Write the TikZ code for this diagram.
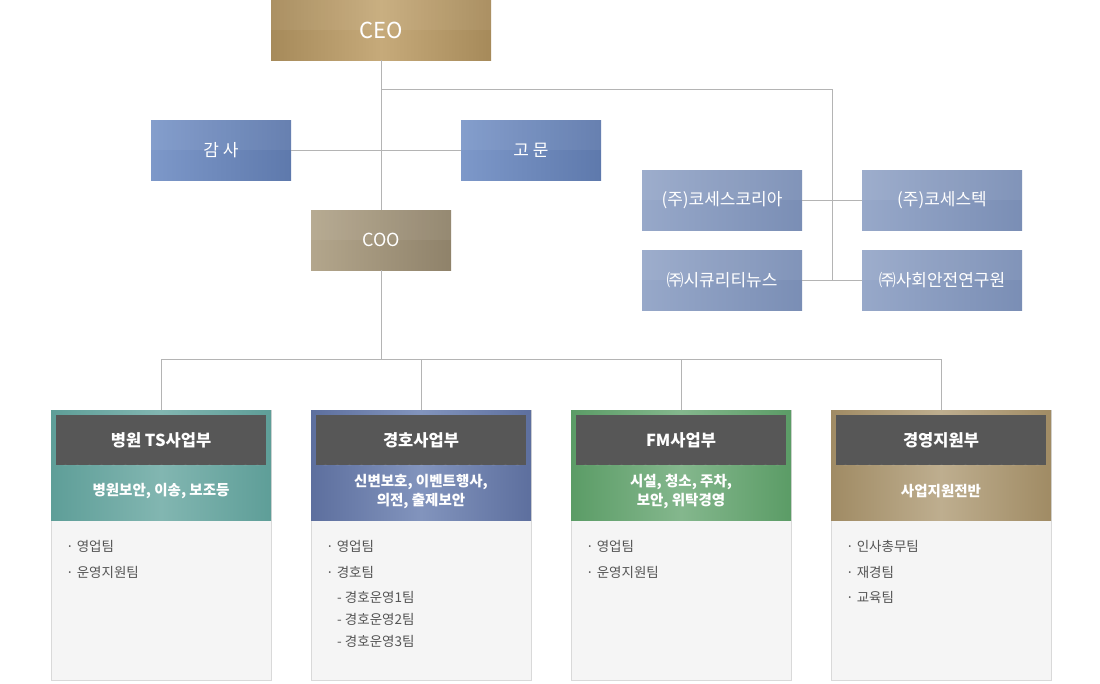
\documentclass[tikz,border=0pt]{standalone}
\usepackage{fontspec}
\setmainfont{Noto Sans CJK KR}
\usetikzlibrary{positioning}
\definecolor{linegray}{HTML}{B4B4B4}
\definecolor{itemgray}{HTML}{555555}
\definecolor{bodyfill}{HTML}{F5F5F5}
\definecolor{bodyline}{HTML}{D9D9D9}
\definecolor{headfill}{HTML}{575757}
\definecolor{ceoedge}{HTML}{A68A5A}
\definecolor{ceomid}{HTML}{C6AA7A}
\definecolor{staffhi}{HTML}{7D98C9}
\definecolor{stafflo}{HTML}{5E79AC}
\definecolor{coohi}{HTML}{B3A68C}
\definecolor{coolo}{HTML}{8F826A}
\definecolor{subhi}{HTML}{97A8C9}
\definecolor{sublo}{HTML}{7A8EB5}
\definecolor{tealedge}{HTML}{5E9E98}
\definecolor{tealmid}{HTML}{82B6B1}
\definecolor{blueedge}{HTML}{5D6F9E}
\definecolor{bluemid}{HTML}{8294BD}
\definecolor{greenedge}{HTML}{5B9C66}
\definecolor{greenmid}{HTML}{84B78D}
\definecolor{tanedge}{HTML}{A08B64}
\definecolor{tanmid}{HTML}{BEAE8F}
\tikzset{
  box/.style={minimum width=140pt, minimum height=60pt, inner sep=0pt, text=white,
    font=\fontsize{17}{20}\selectfont,
    path picture={\fill[white, opacity=0.06] (path picture bounding box.north west)
      rectangle ([yshift=-30pt]path picture bounding box.north east);}},
  ceobox/.style={box, minimum width=220pt, font=\fontsize{22}{26}\selectfont,
    left color=ceoedge, right color=ceoedge, middle color=ceomid},
  staffbox/.style={box, left color=staffhi, right color=stafflo},
  coobox/.style={box, font=\fontsize{18}{21}\selectfont, left color=coohi, right color=coolo},
  subbox/.style={box, minimum width=160pt, left color=subhi, right color=sublo},
  deptbody/.style={draw=bodyline, fill=bodyfill, minimum width=220pt, minimum height=270pt, inner sep=0pt},
  band/.style 2 args={minimum width=220pt, minimum height=110pt, inner sep=0pt,
    left color=#1, right color=#1, middle color=#2},
  headbox/.style={fill=headfill, minimum width=210pt, minimum height=50pt, inner sep=0pt, text=white,
    font=\fontsize{16.5}{19}\selectfont\bfseries,
    path picture={\foreach \k in {0,12,...,260}
      \draw[white, opacity=0.05, line width=4pt] ([xshift=\k pt-40pt]path picture bounding box.south west) -- ++(50pt,-50pt);}},
  subtext/.style={text=white, align=center, font=\fontsize{14.5}{19}\selectfont\bfseries},
  item/.style={anchor=west, inner sep=0pt, text=itemgray, font=\fontsize{13.5}{16}\selectfont},
  link/.style={draw=linegray, line width=1pt}
}
\begin{document}
\begin{tikzpicture}[x=1pt, y=-1pt]
  \useasboundingbox (0,0) rectangle (1100,683);
  % top level
  \node[ceobox] (ceo) at (381,30) {CEO};
  \node[staffbox] (audit) at (221,150) {감 사};
  \node[staffbox] (advisor) at (531,150) {고 문};
  \node[coobox] (coo) at (381,240) {COO};
  \node[subbox] (kosesk) at (722,200) {(주)코세스코리아};
  \node[subbox] (kosest) at (942,200) {(주)코세스텍};
  \node[subbox] (secnews) at (722,280) {㈜시큐리티뉴스};
  \node[subbox] (safety) at (942,280) {㈜사회안전연구원};
  \coordinate (branch) at (381,89);
  \coordinate (affil) at (832,280);
  \coordinate (bus) at (381,359);
  % departments
  \node[deptbody] (d1) at (161,545) {};
  \node[deptbody] (d2) at (421,545) {};
  \node[deptbody] (d3) at (681,545) {};
  \node[deptbody] (d4) at (941,545) {};
  \node[band={tealedge}{tealmid}] (b1) at (161,465) {};
  \node[band={blueedge}{bluemid}] (b2) at (421,465) {};
  \node[band={greenedge}{greenmid}] (b3) at (681,465) {};
  \node[band={tanedge}{tanmid}] (b4) at (941,465) {};
  \node[headbox] (h1) at (161,440) {병원 TS사업부};
  \node[headbox] (h2) at (421,440) {경호사업부};
  \node[headbox] (h3) at (681,440) {FM사업부};
  \node[headbox] (h4) at (941,440) {경영지원부};
  \node[subtext] (s1) at (161,491) {병원보안, 이송, 보조등};
  \node[subtext] (s2) at (421,492) {신변보호, 이벤트행사,\\의전, 출제보안};
  \node[subtext] (s3) at (681,492) {시설, 청소, 주차,\\보안, 위탁경영};
  \node[subtext] (s4) at (941,491) {사업지원전반};
  % teams
  \node[item] (t11) at (66,546) {· 영업팀};
  \node[item] (t12) at (66,572) {· 운영지원팀};
  \node[item] (t21) at (326,546) {· 영업팀};
  \node[item] (t22) at (326,572) {· 경호팀};
  \node[item] (t23) at (337,597) {- 경호운영1팀};
  \node[item] (t24) at (337,619) {- 경호운영2팀};
  \node[item] (t25) at (337,641) {- 경호운영3팀};
  \node[item] (t31) at (586,546) {· 영업팀};
  \node[item] (t32) at (586,572) {· 운영지원팀};
  \node[item] (t41) at (846,546) {· 인사총무팀};
  \node[item] (t42) at (846,572) {· 재경팀};
  \node[item] (t43) at (846,597) {· 교육팀};
  \begin{scope}[link]
    \draw (ceo) to (coo);
    \draw (audit) to (advisor);
    \draw (branch) -| (affil);
    \draw (kosesk) to (kosest);
    \draw (secnews) to (safety);
    \draw (coo) to (bus);
    \foreach \d in {d1,d2,d3,d4}
      \draw (bus) -| (\d.north);
  \end{scope}
\end{tikzpicture}
\end{document}
